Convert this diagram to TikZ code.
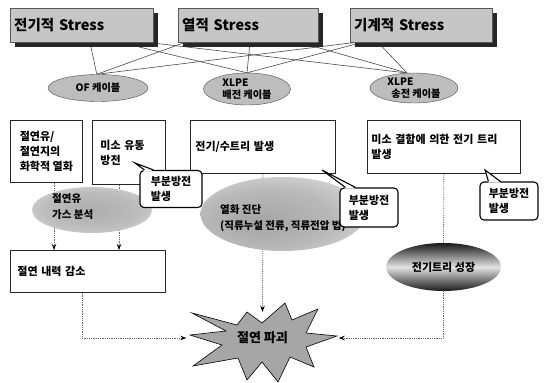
\documentclass[tikz,border=0pt]{standalone}
\usepackage{fontspec}
\setmainfont{Noto Sans CJK KR}
\usetikzlibrary{shapes.geometric,calc,arrows.meta}
\pgfdeclarelayer{bgfill}
\pgfdeclarelayer{background}
\pgfdeclarelayer{shadowlayer}
\pgfsetlayers{bgfill,background,shadowlayer,main}
\pgfdeclareradialshading{softblob}{\pgfpoint{0bp}{0bp}}{color(0bp)=(gray!65); color(20bp)=(gray!52); color(50bp)=(white)}
\pgfdeclareradialshading{softblobB}{\pgfpoint{-8bp}{-6bp}}{color(0bp)=(gray!72); color(20bp)=(gray!55); color(50bp)=(white)}
\newcommand\topfnt{\fontsize{14.5}{16}\selectfont\bfseries}
\newcommand\cabfnt{\fontsize{10.2}{11.5}\selectfont\bfseries}
\newcommand\bodyfnt{\fontsize{11}{15}\selectfont\bfseries}
\newcommand\blobfnt{\fontsize{10.5}{16}\selectfont\bfseries}
\newcommand\treefnt{\fontsize{11}{13}\selectfont\bfseries}
\newcommand\burstfnt{\fontsize{13}{15}\selectfont\bfseries}
\tikzset{
 topbox/.style={draw=black!65, fill=gray!45, anchor=north west, minimum width=143pt, minimum height=34pt, inner xsep=4pt, text width=135pt, align=left, font=\topfnt},
 shadowbox/.style={fill=black!85},
 cable/.style={ellipse, draw=black!70, fill=gray!52, inner sep=0pt, align=left, font=\cabfnt},
 txtbox/.style={draw=black!85, fill=white, anchor=north west, align=left, font=\bodyfnt, line width=0.8pt},
 callbox/.style={rectangle, draw=black, fill=white, line width=1.1pt, rounded corners=4pt, align=left, font=\bodyfnt, inner sep=2pt},
 callline/.style={draw=black, line width=1.1pt, line join=miter},
 meshline/.style={draw=black!70, line width=0.6pt},
 dotline/.style={draw=black!60, densely dotted, line width=0.8pt},
 dotarrow/.style={dotline, -{Stealth[length=6pt,width=4.5pt,black]}},
 blob/.style={ellipse, shade, inner sep=0pt},
 blobtext/.style={font=\blobfnt, align=left, anchor=west, inner sep=0pt},
}
\begin{document}
\begin{tikzpicture}[x=1pt,y=-1pt]
\begin{pgfonlayer}{bgfill}
\fill[white] (0,0) rectangle (547,383);
\end{pgfonlayer}
\useasboundingbox (0,0) rectangle (547,383);

% top boxes
\node[topbox] (t1) at (10,8) {전기적 Stress};
\node[topbox, minimum width=140pt, text width=132pt] (t2) at (178,8) {열적 Stress};
\node[topbox, minimum width=142pt, text width=134pt] (t3) at (350,8) {기계적 Stress};

% cable ellipses
\node[cable, minimum width=100pt, minimum height=27pt] (c1) at (98,88) {OF 케이블};
\node[cable, minimum width=87pt, minimum height=32pt] (c2) at (247,89) {XLPE\\배전 케이블};
\node[cable, minimum width=88pt, minimum height=30pt] (c3) at (414,88) {XLPE\\\hspace*{4pt}송전 케이블};

% text boxes
\node[txtbox, minimum width=72pt, minimum height=62pt] (bA) at (10,120) {절연유/\\절연지의\\화학적 열화};
\node[txtbox, minimum width=73pt, minimum height=64pt, inner xsep=8pt, text width=57pt] (bB) at (92,120) {미소 유동\\방전};
\node[txtbox, minimum width=145pt, minimum height=53pt, inner xsep=5pt, text width=135pt] (bC) at (190,120) {전기/수트리 발생};
\node[txtbox, minimum width=153pt, minimum height=53pt, inner xsep=4pt, text width=145pt] (bD) at (367,120) {미소 결함에 의한 전기 트리\\발생};
\node[txtbox, minimum width=155pt, minimum height=42pt, inner xsep=7pt, text width=141pt] (bE) at (10,250) {절연 내력 감소};

% blobs
\node[blob, shading=softblob, minimum width=120pt, minimum height=46pt] (blob1) at (92,210) {};
\node[blob, shading=softblobB, minimum width=165pt, minimum height=74pt] (blob2) at (283,214) {};
\node[blobtext] (blob1t) at (52,207) {절연유\\가스 분석};
\node[blobtext] (blob2t) at (220,218) {열화 진단\\(직류누설 전류, 직류전압 법)};

% tree growth ellipse
\node[ellipse, minimum width=115pt, minimum height=48pt, inner sep=0pt, top color=black!90, bottom color=black!90, middle color=gray!22, font=\treefnt] (tree) at (443.5,267) {전기트리 성장};

% starburst
\draw[fill=gray!70, draw=black, line width=0.6pt] (190,335) -- (226,331) -- (192,313) -- (237,325) -- (247,312) -- (262,323) -- (285,303) -- (292,320) -- (318,309) -- (306,333) -- (337,336) -- (306,347) -- (314,367) -- (290,357) -- (278,382) -- (262,362) -- (247,380) -- (238,358) -- (193,366) -- (222,345) -- cycle;
\node[minimum width=152pt, minimum height=52pt, inner sep=0pt, font=\burstfnt] (burst) at (262.5,338) {절연 파괴};

% callouts
\coordinate (p1) at (135,163);
\coordinate (p2) at (322,170);
\coordinate (p3) at (485,170);
\node[callbox, minimum width=62pt, minimum height=37pt] (co1) at (171,189) {부분방전\\발생};
\node[callbox, minimum width=58pt, minimum height=39pt] (co2) at (369,207.5) {부분방전\\발생};
\node[callbox, minimum width=58pt, minimum height=38pt] (co3) at (509,201) {부분방전\\발생};
\foreach \c/\p/\a/\b in {co1/p1/5/14, co2/p2/6/16, co3/p3/9/21}{
  \fill[white] ($(\c.north west)+(\a,1.2)$) -- (\p) -- ($(\c.north west)+(\b,1.2)$) -- cycle;
  \draw[callline] ($(\c.north west)+(\a,0)$) -- (\p) -- ($(\c.north west)+(\b,0)$);
}

\begin{pgfonlayer}{shadowlayer}
\foreach \t in {t1,t2,t3}{
  \fill[shadowbox] ($(\t.north east)+(0,5)$) rectangle ($(\t.south east)+(5,5)$);
  \fill[shadowbox] ($(\t.south west)+(5,0)$) rectangle ($(\t.south east)+(5,5)$);
}
\end{pgfonlayer}

\begin{pgfonlayer}{background}
% mesh from stresses to cables
\draw[meshline] ($(t1.south west)+(80,0)$) -- (c1.95);
\draw[meshline] ($(t1.south west)+(110,0)$) -- (c2.north);
\draw[meshline] ($(t1.south west)+(138,0)$) -- (c3.115);
\draw[meshline] ($(t2.south west)+(7,0)$) -- (c1.95);
\draw[meshline] ($(t2.south west)+(72,0)$) -- (c2.north);
\draw[meshline] ($(t2.south west)+(122,0)$) -- (c3.115);
\draw[meshline] ($(t3.south west)+(5,0)$) -- (c1.95);
\draw[meshline] ($(t3.south west)+(12,0)$) -- (c2.north);
\draw[meshline] ($(t3.south west)+(28,0)$) -- (c3.115);
% dotted flows
\draw[dotarrow] ($(bA.south west)+(44,0)$) -- ($(bE.north west)+(44,0)$);
\draw[dotarrow] ($(bB.south west)+(27,0)$) -- ($(bE.north west)+(109,0)$);
\draw[dotarrow] (bC.south) -- (burst.north);
\draw[dotarrow] ($(bE.south west)+(72,0)$) |- (burst.west);
\draw[dotarrow] (tree.south) |- (burst.east);
\draw[dotline] (bD.south) -- (tree.north);
\end{pgfonlayer}
\end{tikzpicture}
\end{document}
